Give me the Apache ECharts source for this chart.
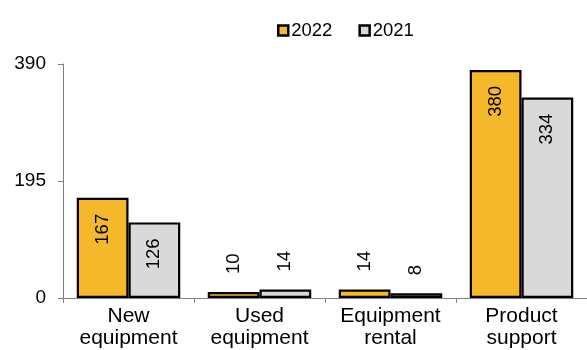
<!DOCTYPE html>
<html>
<head>
<meta charset="utf-8">
<script src="https://cdn.jsdelivr.net/npm/echarts@6/dist/echarts.min.js"></script>
<style>
  html, body { margin: 0; padding: 0; background: #fff; }
  #chart { width: 587px; height: 350px; }
</style>
</head>
<body>
<div id="chart"></div>
<script>
// Revenue by segment, 2022 vs 2021
const categories = ['New\nequipment', 'Used\nequipment', 'Equipment\nrental', 'Product\nsupport'];
const values2022 = [167, 10, 14, 380];
const values2021 = [126, 14, 8, 334];
const yTicks = [0, 195, 390];

const FONT = '"Liberation Sans", Arial, sans-serif';

// Big bars carry their label inside near the top; short ones get it above.
function labelFor(v) {
  const inside = v > 60;
  return {
    value: v,
    label: inside
      ? { position: 'insideTop', distance: 16, align: 'right' }
      : { position: 'top', distance: 18, align: 'left' }
  };
}

function makeSeries(name, values, color) {
  return {
    name: name,
    type: 'bar',
    data: values.map(labelFor),
    barGap: '0%',
    barCategoryGap: '21%',
    itemStyle: { color: color, borderColor: '#000', borderWidth: 2.2 },
    label: {
      show: true,
      rotate: 90,
      verticalAlign: 'middle',
      color: '#000',
      fontFamily: FONT,
      fontSize: 18.5
    }
  };
}

const chart = echarts.init(document.getElementById('chart'), null, { renderer: 'canvas' });
chart.setOption({
  animation: false,
  backgroundColor: '#fff',
  legend: {
    top: 16,
    left: 272,
    itemWidth: 10,
    itemHeight: 10,
    itemGap: 26,
    icon: 'rect',
    textStyle: { fontFamily: FONT, fontSize: 18.5, color: '#000', padding: [0, 0, 0, -2] },
    itemStyle: { borderColor: '#000', borderWidth: 2.5 },
    data: ['2022', '2021']
  },
  grid: { left: 63, right: -11, top: 64, bottom: 52, containLabel: false },
  xAxis: {
    type: 'category',
    data: categories,
    axisLine: { lineStyle: { color: '#808080', width: 1 } },
    axisTick: { show: true, length: 5, alignWithLabel: false, lineStyle: { color: '#808080' } },
    axisLabel: { fontFamily: FONT, fontSize: 21, color: '#000', margin: 7, lineHeight: 22, interval: 0 }
  },
  yAxis: {
    type: 'value',
    min: yTicks[0],
    max: yTicks[yTicks.length - 1],
    interval: yTicks[1] - yTicks[0],
    axisLine: { show: true, lineStyle: { color: '#808080', width: 1 } },
    axisTick: { show: true, length: 5, lineStyle: { color: '#808080' } },
    splitLine: { show: false },
    axisLabel: { fontFamily: FONT, fontSize: 19, color: '#000', margin: 17 }
  },
  series: [
    makeSeries('2022', values2022, '#F5B82A'),
    makeSeries('2021', values2021, '#D9D9D9')
  ]
});
</script>
</body>
</html>
